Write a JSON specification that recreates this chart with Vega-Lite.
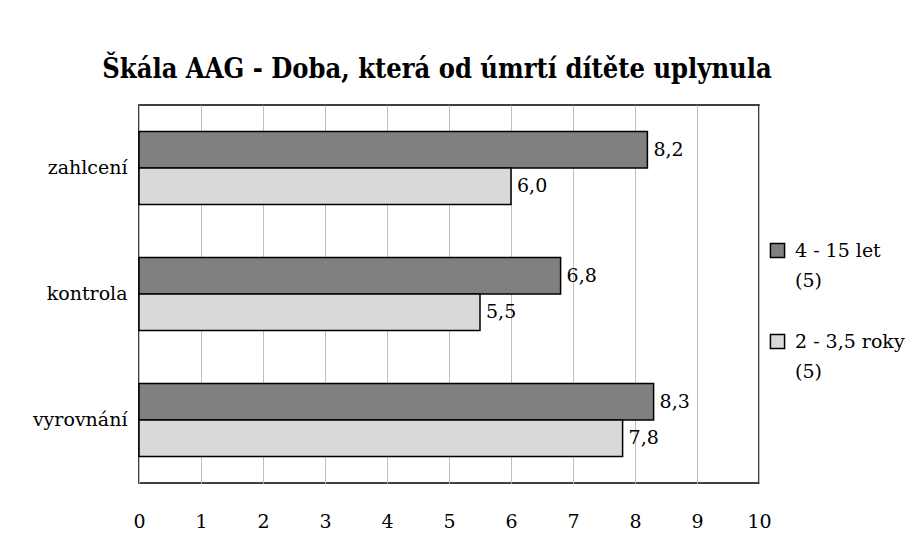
{
  "$schema": "https://vega.github.io/schema/vega-lite/v6.json",
  "width": 620,
  "height": 378,
  "autosize": "none",
  "padding": {"left": 139, "top": 105, "right": 152, "bottom": 60},
  "background": "white",
  "config": {
    "locale": {"number": {"decimal": ",", "thousands": " ", "grouping": [3], "currency": ["", " Kč"]}},
    "font": "DejaVu Serif",
    "view": {"stroke": "#000000", "strokeWidth": 1.5},
    "style": {"guide-label": {"lineHeight": 30}}
  },
  "title": {
    "text": "Škála AAG - Doba, která od úmrtí dítěte uplynula",
    "font": "DejaVu Serif Condensed",
    "fontSize": 27,
    "fontWeight": "bold",
    "color": "#000000",
    "anchor": "middle",
    "dx": -12,
    "offset": 0,
    "baseline": "alphabetic"
  },
  "data": {
    "values": [
      {"kategorie": "zahlcení", "skupina": "4 - 15 let (5)", "hodnota": 8.2},
      {"kategorie": "zahlcení", "skupina": "2 - 3,5 roky (5)", "hodnota": 6.0},
      {"kategorie": "kontrola", "skupina": "4 - 15 let (5)", "hodnota": 6.8},
      {"kategorie": "kontrola", "skupina": "2 - 3,5 roky (5)", "hodnota": 5.5},
      {"kategorie": "vyrovnání", "skupina": "4 - 15 let (5)", "hodnota": 8.3},
      {"kategorie": "vyrovnání", "skupina": "2 - 3,5 roky (5)", "hodnota": 7.8}
    ]
  },
  "encoding": {
    "y": {
      "field": "kategorie",
      "type": "nominal",
      "sort": ["zahlcení", "kontrola", "vyrovnání"],
      "scale": {"paddingInner": 0.42, "paddingOuter": 0.21},
      "axis": {
        "title": null,
        "ticks": false,
        "domain": false,
        "labelFont": "DejaVu Serif",
        "labelFontSize": 19,
        "labelColor": "#000000",
        "labelPadding": 12
      }
    },
    "yOffset": {
      "field": "skupina",
      "type": "nominal",
      "sort": ["4 - 15 let (5)", "2 - 3,5 roky (5)"]
    },
    "x": {
      "field": "hodnota",
      "type": "quantitative",
      "scale": {"domain": [0, 10], "nice": false},
      "axis": {
        "title": null,
        "values": [0,1,2,3,4,5,6,7,8,9,10],
        "ticks": false,
        "domain": false,
        "grid": true,
        "gridColor": "#bfbfbf",
        "gridWidth": 1,
        "labelOverlap": false,
        "labelFont": "DejaVu Serif",
        "labelFontSize": 19,
        "labelColor": "#000000",
        "labelPadding": 29,
        "labelFlush": false,
        "format": "d"
      }
    }
  },
  "layer": [
    {
      "mark": {"type": "bar", "stroke": "#000000", "strokeWidth": 1.5},
      "encoding": {
        "color": {
          "field": "skupina",
          "type": "nominal",
          "sort": ["4 - 15 let (5)", "2 - 3,5 roky (5)"],
          "scale": {"domain": ["4 - 15 let (5)", "2 - 3,5 roky (5)"], "range": ["#808080", "#d9d9d9"]},
          "legend": {
            "title": null,
            "orient": "none",
            "legendX": 629,
            "legendY": 136,
            "symbolType": "square",
            "symbolSize": 200,
            "symbolStrokeColor": "#000000",
            "symbolStrokeWidth": 1.5,
            "labelFont": "DejaVu Serif",
            "labelFontSize": 19,
            "labelColor": "#000000",
            "labelLimit": 200,
            "labelOffset": 8,
            "rowPadding": 40,
            "labelExpr": "[slice(datum.label, 0, indexof(datum.label, ' (')), slice(datum.label, indexof(datum.label, ' (') + 1)]"
          }
        }
      }
    },
    {
      "mark": {"type": "text", "align": "left", "baseline": "middle", "dx": 6, "font": "DejaVu Serif", "fontSize": 19, "color": "#000000"},
      "encoding": {
        "text": {"field": "hodnota", "type": "quantitative", "format": ".1f"}
      }
    }
  ]
}
